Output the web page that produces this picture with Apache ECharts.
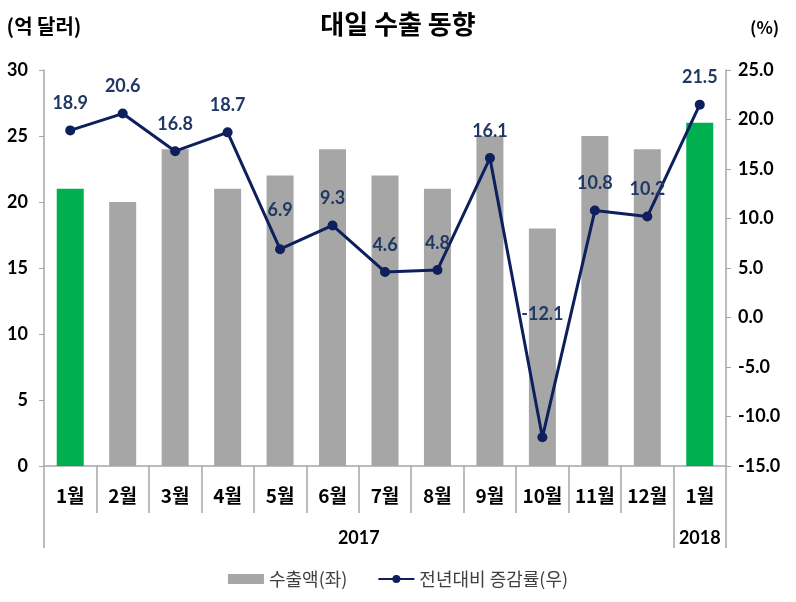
<!DOCTYPE html>
<html><head><meta charset="utf-8">
<script src="https://cdn.jsdelivr.net/npm/echarts@6/dist/echarts.min.js"></script>
<style>html,body{margin:0;padding:0;background:#fff}#c{width:796px;height:602px}</style>
</head><body><div id="c"></div>
<script>
const categories = ['1월','2월','3월','4월','5월','6월','7월','8월','9월','10월','11월','12월','1월'];
const exportValues = [21, 20, 24, 21, 22, 24, 22, 21, 25, 18, 25, 24, 26];
const growthRates = [18.9, 20.6, 16.8, 18.7, 6.9, 9.3, 4.6, 4.8, 16.1, -12.1, 10.8, 10.2, 21.5];
const highlighted = [0, 12];
const years = ['2017', '2018'];
const yearCenters = [6, 12.5];
const yearBounds = [0, 12, 13];

const KR = '"Noto Sans CJK KR", sans-serif';
const NUM = 'Lato, "Noto Sans", sans-serif';
const GRAY = '#A6A6A6';
const NAVY = '#0D1F5C';
// label placement tweaks (style only): index -> distance
const labelDistance = { 4: 25, 9: 109 };

const chart = echarts.init(document.getElementById('c'));
chart.setOption({
  animation: false,
  title: {
    text: '대일 수출 동향', left: 'center', top: 6,
    textStyle: { fontFamily: KR, fontSize: 26, fontWeight: 'bold', color: '#000' }
  },
  legend: {
    bottom: 9, left: 'center', itemGap: 30, itemWidth: 36, itemHeight: 10,
    textStyle: { fontFamily: KR, fontSize: 18, color: '#404040' },
    data: [
      { name: '수출액(좌)', icon: 'rect', itemStyle: { color: GRAY } },
      { name: '전년대비 증감률(우)' }
    ]
  },
  grid: { left: 44, right: 70, top: 70, bottom: 136 },
  xAxis: [
    {
      type: 'category', data: categories, position: 'bottom',
      axisLine: { onZero: false, lineStyle: { color: GRAY, width: 1.5 } },
      axisTick: { show: true, interval: 0, length: 47, lineStyle: { color: GRAY, width: 1.5 } },
      axisLabel: { interval: 0, margin: 20, fontFamily: KR, fontSize: 19, fontWeight: 'bold', color: '#000' }
    },
    {
      type: 'value', min: 0, max: 13, position: 'bottom', gridIndex: 0,
      axisLine: { show: false, onZero: false },
      splitLine: { show: false },
      axisTick: { show: true, customValues: yearBounds, length: 82, lineStyle: { color: GRAY, width: 1.5 } },
      axisLabel: {
        customValues: yearCenters, margin: 63,
        fontFamily: NUM, fontSize: 18, fontWeight: 'bold', color: '#000',
        formatter: v => years[yearCenters.indexOf(v)] || ''
      }
    }
  ],
  yAxis: [
    {
      type: 'value', min: 0, max: 30, interval: 5,
      name: '(억 달러)', nameLocation: 'end', nameGap: 34,
      nameTextStyle: { fontFamily: KR, fontSize: 20, fontWeight: 'bold', color: '#000', align: 'center' },
      axisLine: { show: true, onZero: false, lineStyle: { color: GRAY, width: 1.5 } },
      axisTick: { show: true, length: 5, lineStyle: { color: GRAY } },
      splitLine: { show: false },
      axisLabel: { margin: 16, fontFamily: NUM, fontSize: 18, fontWeight: 'bold', color: '#000' }
    },
    {
      type: 'value', min: -15, max: 25, interval: 5, position: 'right',
      name: '(%)', nameLocation: 'end', nameGap: 34,
      nameTextStyle: { fontFamily: KR, fontSize: 17, fontWeight: 'bold', color: '#000', align: 'left', padding: [0, 0, 0, 24] },
      axisLine: { show: true, onZero: false, lineStyle: { color: GRAY, width: 1.5 } },
      axisTick: { show: true, length: 5, lineStyle: { color: GRAY } },
      splitLine: { show: false },
      axisLabel: { margin: 12, fontFamily: NUM, fontSize: 18, fontWeight: 'bold', color: '#000',
        formatter: v => v.toFixed(1) }
    }
  ],
  series: [
    {
      name: '수출액(좌)', type: 'bar', yAxisIndex: 0, barWidth: 27,
      itemStyle: { color: GRAY },
      data: exportValues.map((v, i) => highlighted.includes(i) ? { value: v, itemStyle: { color: '#00B050' } } : v)
    },
    {
      name: '전년대비 증감률(우)', type: 'line', yAxisIndex: 1,
      symbol: 'circle', symbolSize: 10,
      lineStyle: { color: NAVY, width: 3 },
      itemStyle: { color: NAVY },
      label: { show: true, position: 'top', distance: 13, fontFamily: NUM, fontSize: 18, fontWeight: 'bold', color: '#1F3864',
        formatter: p => p.value.toFixed(1) },
      data: growthRates.map((v, i) => labelDistance[i] !== undefined ? { value: v, label: { distance: labelDistance[i] } } : v)
    }
  ]
});
</script></body></html>
